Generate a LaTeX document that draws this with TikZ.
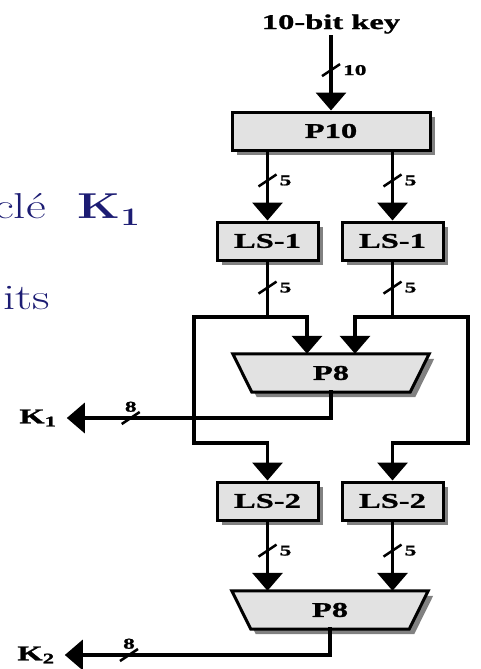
\documentclass[tikz,border=0pt]{standalone}
\usepackage{fontspec}
\usetikzlibrary{arrows.meta,calc,positioning,shadows,backgrounds}
\newfontfamily\diagfont[FakeStretch=1.55,FakeBold=1.2]{Liberation Serif}
\newfontfamily\slidefont[FakeStretch=1.35]{Latin Modern Roman}
\definecolor{slideblue}{RGB}{28,28,115}
\definecolor{boxgray}{RGB}{226,226,226}
\tikzset{
  wire/.style={line width=3.5pt,line cap=rect},
  slash/.style={line width=2.5pt},
  box/.style={draw,line width=3pt,fill=boxgray,minimum height=38pt,inner sep=0pt,
    font=\diagfont\bfseries\fontsize{21}{21}\selectfont,
    drop shadow={shadow xshift=5pt,shadow yshift=-5pt,fill=black!70,opacity=.7}},
  trap/.style={minimum width=196pt,minimum height=38pt,inner sep=0pt,
    font=\diagfont\bfseries\fontsize{21}{21}\selectfont},
  keylab/.style={font=\diagfont\bfseries\fontsize{21}{21}\selectfont},
  klab/.style={inner xsep=10pt,inner ysep=0pt,font=\diagfont\bfseries\fontsize{21}{21}\selectfont},
  buslab/.style={inner sep=0pt,font=\diagfont\bfseries\fontsize{15}{15}\selectfont},
  labright/.style={anchor=west,xshift=12pt},
  labup/.style={anchor=south,yshift=6pt},
  slide/.style={inner sep=0pt,text=slideblue,font=\slidefont\fontsize{36}{40}\selectfont}
}
\newcommand{\busmark}[3]{%
  \draw[slash] ($(#1)+(-9,6)$) -- ($(#1)+(9,-6)$);
  \node[buslab,#3] (#1lab) at (#1) {#2};}
\begin{document}
\begin{tikzpicture}[x=1pt,y=-1pt,>={Triangle[length=18pt,width=30pt]}]
\useasboundingbox (0,0) rectangle (481,669);
\node[slide,anchor=base west] (cle) at (-6,218) {clé\hspace{32pt}{\bfseries K}\textsubscript{\bfseries 1}};
\node[slide,anchor=base west] (its) at (3,309) {its};

\node[keylab] (key) at (331,24) {10-bit key};
\node[box,minimum width=198pt] (p10) at (331,131) {P10};
\node[box,minimum width=101pt] (ls1l) at (267.5,241) {LS-1};
\node[box,minimum width=101pt] (ls1r) at (392.5,241) {LS-1};
\node[trap] (p8a) at (331,373) {P8};
\node[box,minimum width=101pt] (ls2l) at (267.5,501) {LS-2};
\node[box,minimum width=101pt] (ls2r) at (392.5,501) {LS-2};
\node[trap] (p8b) at (330,610) {P8};
\node[klab] (k1) at (38,418) {K\textsubscript{1}};
\node[klab] (k2) at (36,655) {K\textsubscript{2}};

\begin{scope}[on background layer]
\foreach \t in {p8a,p8b}{
  \fill[black!70,opacity=.7,transform canvas={xshift=5pt,yshift=-5pt}] (\t.north west) -- (\t.north east)
    -- ([xshift=-19pt]\t.south east) -- ([xshift=19pt]\t.south west) -- cycle;
  \filldraw[fill=boxgray,line width=3pt] (\t.north west) -- (\t.north east)
    -- ([xshift=-19pt]\t.south east) -- ([xshift=19pt]\t.south west) -- cycle;
}
\end{scope}

\coordinate (outl) at (194,317);
\coordinate (outr) at (468,317);
\coordinate (row2) at (0,443);

\draw[wire,->] (key) -- coordinate[pos=.45] (b10) (p10);
\draw[wire,->] (ls1l |- p10.south) -- coordinate[pos=.42] (b5a) (ls1l);
\draw[wire,->] (ls1r |- p10.south) -- coordinate[pos=.42] (b5b) (ls1r);
\draw[wire] (ls1l) -- coordinate[pos=.47] (b5c) (ls1l |- outl);
\draw[wire] (ls1r) -- coordinate[pos=.47] (b5d) (ls1r |- outr);
\draw[wire,<->] ([xshift=-24pt]p8a.north) |- (outl) |- (ls2l |- row2) -- (ls2l);
\draw[wire,<->] ([xshift=24pt]p8a.north) |- (outr) |- (ls2r |- row2) -- (ls2r);
\draw[wire,->] (p8a) |- coordinate[pos=.879] (b8a) (k1);
\draw[wire,->] (ls2l) -- coordinate[pos=.42] (b5e) (ls2l |- p8b.north);
\draw[wire,->] (ls2r) -- coordinate[pos=.42] (b5f) (ls2r |- p8b.north);
\draw[wire,->] (p8b) |- coordinate[pos=.879] (b8b) (k2);

\busmark{b10}{10}{labright}
\busmark{b5a}{5}{labright}
\busmark{b5b}{5}{labright}
\busmark{b5c}{5}{labright}
\busmark{b5d}{5}{labright}
\busmark{b5e}{5}{labright}
\busmark{b5f}{5}{labright}
\busmark{b8a}{8}{labup}
\busmark{b8b}{8}{labup}
\end{tikzpicture}
\end{document}
